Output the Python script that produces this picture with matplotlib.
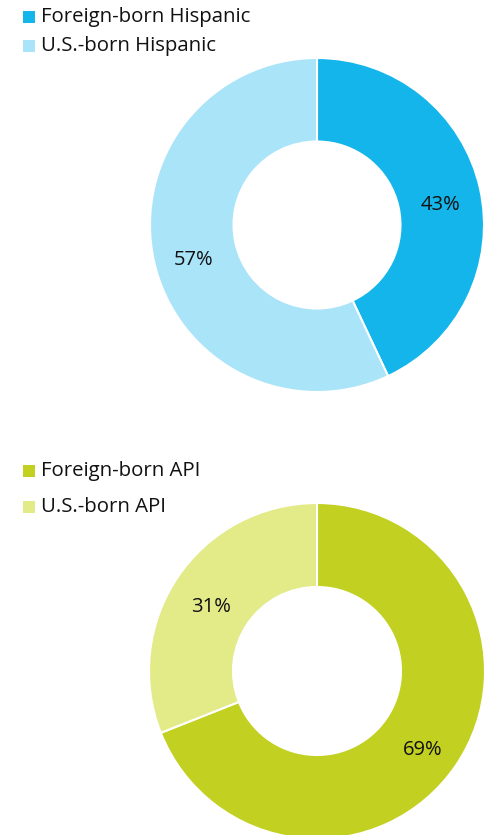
import matplotlib

matplotlib.use("Agg")
import matplotlib.pyplot as plt  # noqa: E402
from matplotlib.patches import Rectangle  # noqa: E402

plt.rcParams["font.family"] = ["Open Sans", "DejaVu Sans"]

hisp_labels = ["Foreign-born Hispanic", "U.S.-born Hispanic"]
hisp_values = [43, 57]
hisp_colors = ["#13b5ea", "#aae4f8"]

api_labels = ["Foreign-born API", "U.S.-born API"]
api_values = [69, 31]
api_colors = ["#c2d021", "#e3ea88"]

W, H = 485, 835
fig = plt.figure(figsize=(W / 100, H / 100), dpi=100)


def donut(cx, cy, r, values, colors):
    ax = fig.add_axes([(cx - r) / W, (H - cy - r) / H, 2 * r / W, 2 * r / H])
    ax.pie(
        values,
        colors=colors,
        startangle=90,
        counterclock=False,
        radius=1,
        wedgeprops=dict(width=0.5, edgecolor="white", linewidth=1.5),
        labels=[f"{v}%" for v in values],
        labeldistance=0.76,
        textprops=dict(fontsize=14.5, color="#111111"),
    )
    # labels sit a little low in the original
    for t in ax.texts:
        x, y = t.get_position()
        t.set_position((x, y - 0.045))
        t.set_ha("center")
        t.set_va("center")
    ax.set_xlim(-1, 1)
    ax.set_ylim(-1, 1)
    ax.set_aspect("equal")
    ax.axis("off")


def legend(x, ys, labels, colors):
    for y, lab, col in zip(ys, labels, colors):
        fig.patches.append(
            Rectangle((x / W, (H - y - 6) / H), 12 / W, 12 / H,
                      transform=fig.transFigure, facecolor=col, edgecolor="none")
        )
        fig.text((x + 18) / W, (H - y) / H, lab, fontsize=14.7,
                 color="#111111", va="center", ha="left")


donut(317, 225, 167, hisp_values, hisp_colors)
donut(317, 671, 168, api_values, api_colors)

legend(23, [17, 46], hisp_labels, hisp_colors)
legend(23, [471, 507], api_labels, api_colors)

fig.savefig("out.png", dpi=100)
